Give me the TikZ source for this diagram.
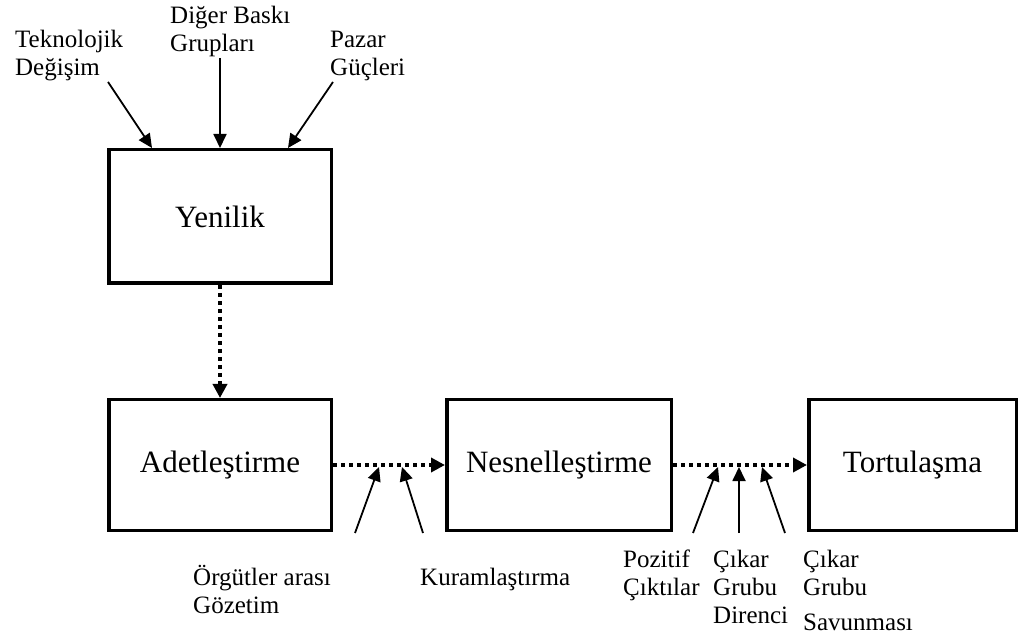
\documentclass[tikz,border=0pt]{standalone}
\usepackage{fontspec}
\setmainfont{Liberation Serif}
\usetikzlibrary{arrows.meta,calc}
\begin{document}
\begin{tikzpicture}[x=1pt,y=-1pt,
  box/.style={draw,line width=3.5pt,inner sep=0pt,font=\fontsize{31}{36}\selectfont},
  lbl/.style={anchor=base west,inner sep=0pt,align=left,font=\fontsize{25}{28}\selectfont},
  dotarrow/.style={line width=3.7pt,dash pattern=on 3.7pt off 4.3pt,-{Triangle[length=14pt,width=14pt]}},
  solidarrow/.style={line width=1.8pt,-{Triangle[length=14pt,width=13pt]}}]
\path[use as bounding box] (0,0) rectangle (1029,636);

\node[box,minimum width=222.5pt,minimum height=133.5pt] (yen) at (220,216.5) {Yenilik};
\node[box,minimum width=222.5pt,minimum height=130.5pt] (adet) at (220,465) {Adetleştirme};
\node[box,minimum width=224.5pt,minimum height=130.5pt] (nesn) at (559,465) {Nesnelleştirme};
\node[box,minimum width=207.5pt,minimum height=130.5pt] (tort) at (912.5,465) {Tortulaşma};

\node[lbl] (tek) at (15,76) {Teknolojik\\Değişim};
\node[lbl] (dig) at (170,52) {Diğer Baskı\\Grupları};
\node[lbl] (paz) at (330,76) {Pazar\\Güçleri};
\node[lbl] (org) at (193,613) {Örgütler arası\\Gözetim};
\node[lbl] (kur) at (420,585) {Kuramlaştırma};
\node[lbl] (poz) at (623,595) {Pozitif\\Çıktılar};
\node[lbl] (dir) at (713,623) {Çıkar\\Grubu\\Direnci};
\node[lbl] (sav) at (803,630) {Çıkar\\Grubu\\[7pt]Savunması};

\draw[dotarrow] (yen) -- (adet);
\draw[dotarrow] (adet) -- (nesn);
\draw[dotarrow] (nesn) -- (tort);

\coordinate (tekT) at (108,82);
\coordinate (digT) at (220,58);
\coordinate (pazT) at (333,82);
\draw[solidarrow] (tekT) -- ($(yen.north west)+(45,0)$);
\draw[solidarrow] (digT) -- (yen.north);
\draw[solidarrow] (pazT) -- ($(yen.north east)+(-45,0)$);

\coordinate (orgT) at (355,533);
\coordinate (orgH) at (379,467);
\coordinate (kurT) at (423,533);
\coordinate (kurH) at (402,467);
\coordinate (pozT) at (693,533);
\coordinate (pozH) at (718,467);
\coordinate (dirT) at (739,533);
\coordinate (dirH) at (739,467);
\coordinate (savT) at (785,533);
\coordinate (savH) at (762,467);
\draw[solidarrow] (orgT) -- (orgH);
\draw[solidarrow] (kurT) -- (kurH);
\draw[solidarrow] (pozT) -- (pozH);
\draw[solidarrow] (dirT) -- (dirH);
\draw[solidarrow] (savT) -- (savH);
\end{tikzpicture}
\end{document}
